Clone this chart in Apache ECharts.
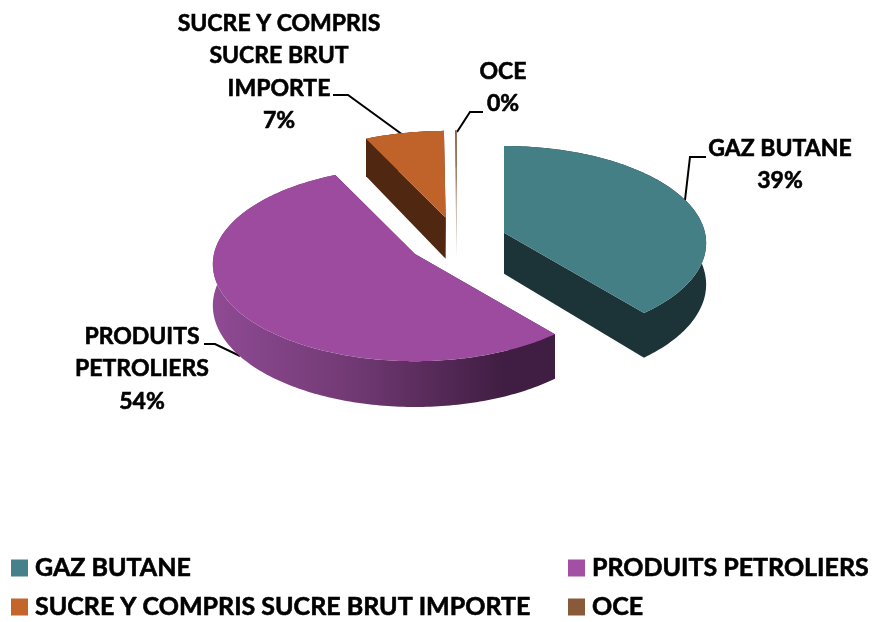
<!DOCTYPE html>
<html>
<head>
<meta charset="utf-8">
<style>
  html, body { margin: 0; padding: 0; background: #fff; }
  #chart { width: 873px; height: 622px; }
</style>
<script src="https://cdn.jsdelivr.net/npm/echarts@6/dist/echarts.min.js"></script>
</head>
<body>
<div id="chart"></div>
<script>
const categories = ['GAZ BUTANE', 'PRODUITS PETROLIERS', 'SUCRE Y COMPRIS SUCRE BRUT IMPORTE', 'OCE'];
// OCE rounds to 0% but still shows as a thin sliver
const values = [39, 54, 7, 0.15];
const labelTexts = ['GAZ BUTANE', 'PRODUITS\nPETROLIERS', 'SUCRE Y COMPRIS\nSUCRE BRUT\nIMPORTE', 'OCE'];
const topColors = ['#457f86', '#9d4b9e', '#c0632a', '#8b5a3a'];
const legendColors = ['#46808a', '#a34fa3', '#c4652c', '#885a3a'];
const wallColors = ['#1c3337', null, '#502711', '#c4ae9f'];

const FONT = 'Lato, "Noto Sans", sans-serif';
const pie = { cx: 457, cy: 241, rx: 201, ry: 96, depth: 41, persp: 0.105, explode: 50 };
const total = values.reduce((a, b) => a + b, 0);

// tilted pie with a bit of perspective, angle is clockwise from 12 o'clock
function project(deg, ox, oy, drop) {
  const a = deg * Math.PI / 180;
  const p = 1 / (1 + pie.persp * Math.cos(a));
  return [
    ox + pie.rx * Math.sin(a) * p,
    oy - pie.ry * Math.cos(a) * p + drop * p
  ];
}

function arc(from, to, ox, oy, drop) {
  const pts = [];
  const n = Math.max(2, Math.ceil(to - from));
  for (let i = 0; i <= n; i++) {
    pts.push(project(from + (to - from) * i / n, ox, oy, drop));
  }
  return pts;
}

function sliceRenderer(index) {
  const before = values.slice(0, index).reduce((a, b) => a + b, 0);
  return function (params, api) {
    const start = before / total * 360;
    const end = start + api.value(0) / total * 360;
    const mid = (start + end) / 2 * Math.PI / 180;
    const ox = pie.cx + pie.explode * Math.sin(mid);
    const oy = pie.cy - pie.explode * Math.cos(mid) * pie.ry / pie.rx;

    const topArc = arc(start, end, ox, oy, 0);
    const lowArc = arc(start, end, ox, oy, pie.depth);
    const apex = [ox, oy];
    const apexLow = [ox, oy + pie.depth];

    const wallFill = wallColors[index] || new echarts.graphic.LinearGradient(0, 0, 1, 0, [
      { offset: 0, color: '#8f4a93' },
      { offset: 0.4, color: '#723a75' },
      { offset: 0.85, color: '#401d42' },
      { offset: 1, color: '#401d42' }
    ]);
    const faceFill = wallColors[index] || '#401d42';

    return {
      type: 'group',
      children: [
        { type: 'polygon', shape: { points: [apex, topArc[0], lowArc[0], apexLow] }, style: { fill: faceFill } },
        { type: 'polygon', shape: { points: [apex, topArc[topArc.length - 1], lowArc[lowArc.length - 1], apexLow] }, style: { fill: faceFill } },
        { type: 'polygon', shape: { points: topArc.concat(lowArc.slice().reverse()) }, style: { fill: wallFill } },
        { type: 'polygon', shape: { points: [apex].concat(topArc) }, style: { fill: topColors[index] } }
      ]
    };
  };
}

const labelSpots = [
  { x: 780, y: 132, line: [[706, 157], [690, 157], [685, 200]] },
  { x: 142, y: 320, line: [[204, 344], [215, 344], [240, 356]] },
  { x: 279, y: 7, line: [[333, 95], [348, 95], [403, 135]] },
  { x: 503, y: 55, line: [[483, 112], [470, 112], [457, 132]] }
];

const graphics = [];
labelSpots.forEach((spot, i) => {
  graphics.push({
    type: 'polyline',
    shape: { points: spot.line },
    style: { stroke: '#000', lineWidth: 2, fill: null }
  });
  graphics.push({
    type: 'text',
    x: spot.x,
    y: spot.y,
    style: {
      text: labelTexts[i] + '\n' + Math.round(values[i] / total * 100) + '%',
      fontFamily: FONT,
      fontWeight: 'bold',
      fontSize: 23,
      lineHeight: 32.5,
      align: 'center',
      verticalAlign: 'top',
      fill: '#000',
      stroke: '#000',
      lineWidth: 0.6
    }
  });
});

function columnLegend(left, names) {
  return {
    orient: 'vertical',
    left: left,
    top: 553,
    itemWidth: 17,
    itemHeight: 17,
    itemGap: 9,
    icon: 'rect',
    selectedMode: false,
    padding: 0,
    data: names,
    textStyle: {
      fontFamily: FONT,
      fontWeight: 'bold',
      fontSize: 25,
      lineHeight: 30,
      color: '#000',
      textBorderColor: '#000',
      textBorderWidth: 0.6,
      padding: [0, 0, 0, 2]
    }
  };
}

const chart = echarts.init(document.getElementById('chart'), null, { renderer: 'canvas' });
chart.setOption({
  backgroundColor: '#fff',
  animation: false,
  legend: [
    columnLegend(11, [categories[0], categories[2]]),
    columnLegend(568, [categories[1], categories[3]])
  ],
  graphic: graphics,
  series: categories.map((name, i) => ({
    type: 'custom',
    name: name,
    coordinateSystem: 'none',
    silent: true,
    itemStyle: { color: legendColors[i] },
    renderItem: sliceRenderer(i),
    data: [values[i]]
  }))
});
</script>
</body>
</html>
